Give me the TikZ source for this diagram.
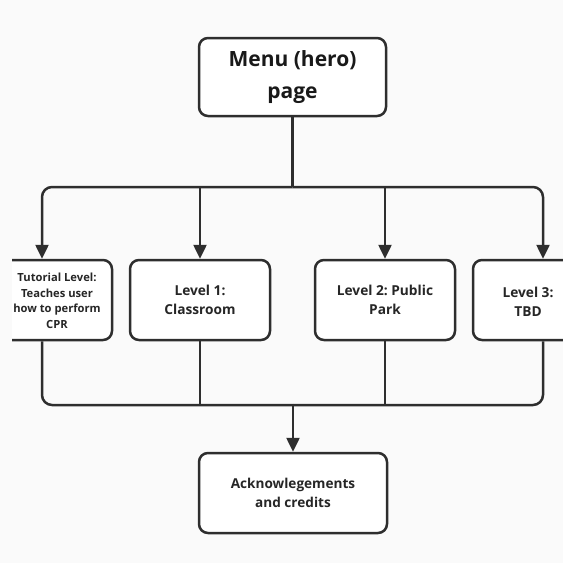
\documentclass[tikz,border=0pt]{standalone}
\usepackage{fontspec}
\setmainfont{Open Sans}
\usetikzlibrary{arrows.meta}
\frenchspacing
\definecolor{ink}{HTML}{2E2E2E}
\definecolor{bg}{HTML}{FAFAFA}
\tikzset{
  box/.style={draw=ink, line width=2.5pt, rounded corners=9pt, fill=white, inner sep=0pt},
  conn/.style={draw=ink, line width=2.5pt},
  arr/.style={conn, -{Triangle[width=13pt,length=14pt]}},
  bigtxt/.style={font=\fontsize{21}{32}\selectfont\bfseries, align=center, text=black!90},
  midtxt/.style={font=\fontsize{13.7}{19}\selectfont\bfseries, align=center, text=black!85},
  ackstyle/.style={font=\fontsize{13.6}{19}\selectfont\bfseries, align=center, text=black!85},
  smltxt/.style={font=\fontsize{11.2}{15.5}\selectfont\bfseries, align=center, text=black!85}
}
\begin{document}
\begin{tikzpicture}[x=1pt,y=-1pt]
\fill[bg] (0,0) rectangle (563,563);
\useasboundingbox (0,0) rectangle (563,563);
% boxes
\node[box, minimum width=187pt, minimum height=78pt, bigtxt] (menu) at (292.5,77) {Menu (hero)\\page};
\begin{scope}
\clip (12,0) rectangle (563,563);
\node[box, minimum width=140pt, minimum height=80pt] (tut) at (42,300) {};
\node[box, minimum width=140pt, minimum height=80pt] (l3) at (543,300) {};
\end{scope}
\node[smltxt] (tuttext) at (57,301) {Tutorial Level:\\Teaches user\\how to perform\\CPR};
\node[midtxt] (l3text) at (528,301.5) {Level 3:\\TBD};
\node[box, minimum width=140pt, minimum height=80pt, midtxt] (cls) at (200,300) {Level 1:\\Classroom};
\node[box, minimum width=140pt, minimum height=80pt, midtxt] (park) at (385,300) {Level 2: Public\\Park};
\node[box, minimum width=188pt, minimum height=80pt, ackstyle] (ack) at (293,493) {Acknowlegements\\and credits};
% junctions
\coordinate (top) at (292.5,187);
\coordinate (bot) at (293,405);
% top connectors
\draw[conn] (menu.south) -- (top);
\draw[arr, rounded corners=10pt] (top) -| (tut.north);
\draw[arr, rounded corners=10pt] (top) -| (l3.north);
\draw[arr] (cls.north |- top) -- (cls.north);
\draw[arr] (park.north |- top) -- (park.north);
% bottom connectors
\draw[conn, rounded corners=10pt] (tut.south) |- (bot);
\draw[conn, rounded corners=10pt] (l3.south) |- (bot);
\draw[conn] (cls.south) -- (cls.south |- bot);
\draw[conn] (park.south) -- (park.south |- bot);
\draw[arr] (bot) -- (ack.north);
\end{tikzpicture}
\end{document}
